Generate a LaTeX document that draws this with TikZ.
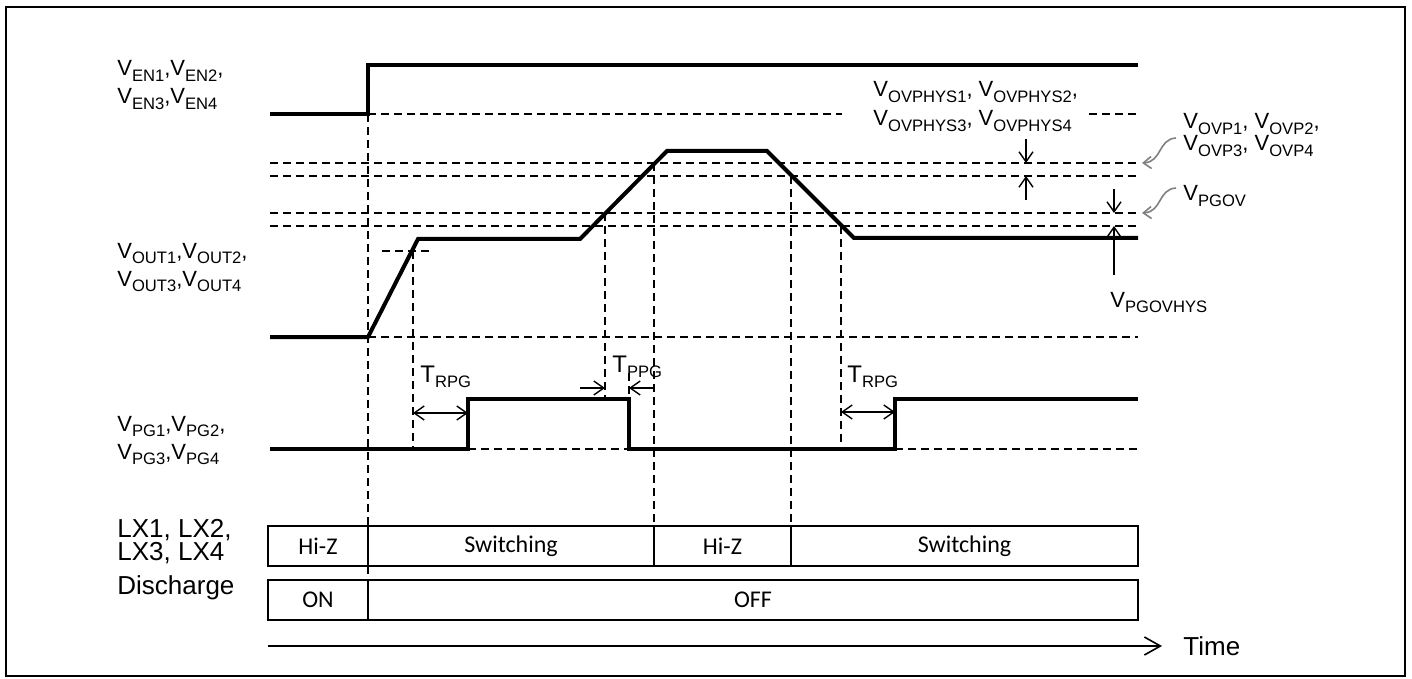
\documentclass[tikz,border=0pt]{standalone}
\usepackage{fontspec}
\setmainfont{Liberation Sans}
\newfontfamily\calibrifont{Carlito}
\usetikzlibrary{arrows.meta}
\newcommand\Vs[2]{#1\raisebox{-2.6pt}{\fontsize{8.3}{9}\selectfont #2}}
\begin{document}
\begin{tikzpicture}[x=0.5pt,y=-0.5pt,
  sig/.style={line width=2pt},
  guide/.style={line width=0.8pt, dash pattern=on 4pt off 2.5pt},
  lbl/.style={anchor=base west, inner sep=0pt, font=\fontsize{11}{13}\selectfont},
  biglbl/.style={anchor=base west, inner sep=0pt, font=\fontsize{13}{15}\selectfont},
  tlbl/.style={anchor=base west, inner sep=0pt, font=\fontsize{12}{14}\selectfont},
  cell/.style={draw, line width=0.8pt, inner sep=0pt, outer sep=0pt, anchor=north west,
               minimum height=20pt, font=\calibrifont\fontsize{12}{14}\selectfont},
  barb/.style={-{Straight Barb[length=5pt,width=7pt]}, line width=0.7pt},
  dbarb/.style={{Straight Barb[length=5pt,width=7pt]}-{Straight Barb[length=5pt,width=7pt]}, line width=0.7pt},
  grayarr/.style={-{Straight Barb[length=4pt,width=6pt]}, draw=black!50, line width=0.8pt},
]
\useasboundingbox (0,0) rectangle (1412,679);
\draw[line width=1.3pt] (6,7) rectangle (1405,676);

% guide lines
\draw[guide] (368,114) -- (842,114);
\draw[guide] (1089,114) -- (1138,114);
\foreach \yy in {163,176,213,226} \draw[guide] (270,\yy) -- (1138,\yy);
\draw[guide] (368,337) -- (1138,337);
\draw[guide] (382,251) -- (429,251);
\draw[guide] (468,449) -- (629,449);
\draw[guide] (895,449) -- (1138,449);
\draw[guide] (368,114) -- (368,526);
\draw[guide] (368,566) -- (368,580);
\draw[guide] (413,251) -- (413,449);
\draw[guide] (605,213) -- (605,399);
\draw[guide] (629,373) -- (629,399);
\draw[guide] (654,163) -- (654,526);
\draw[guide] (791,176) -- (791,526);
\draw[guide] (841,226) -- (841,449);

% signals
\draw[sig] (270,114) -- (368,114) -- (368,65) -- (1138,65);
\draw[sig] (270,337) -- (368,337) -- (418,239) -- (580,239) -- (667,151) -- (767,151) -- (854,238) -- (1138,238);
\draw[sig] (270,449) -- (468,449) -- (468,399) -- (629,399) -- (629,449) -- (895,449) -- (895,399) -- (1138,399);

% level arrows
\draw[barb] (1026,139) -- (1026,163);
\draw[barb] (1026,200) -- (1026,176);
\draw[barb] (1114,189) -- (1114,213);
\draw[barb] (1114,275) -- (1114,226);
\draw[grayarr] (1176,138) .. controls (1158,139) and (1162,162) .. (1142,163);
\draw[grayarr] (1176,188) .. controls (1158,189) and (1162,212) .. (1142,213);

% timing arrows
\draw[dbarb] (413,413) -- (468,413);
\draw[dbarb] (841,412) -- (895,412);
\draw[barb] (580,388) -- (605,388);
\draw[barb] (655,388) -- (629,388);

% left labels
\node[lbl] (en1) at (117,76) {\Vs{V}{EN1},\Vs{V}{EN2},};
\node[lbl] (en2) at (117,104) {\Vs{V}{EN3},\Vs{V}{EN4}};
\node[lbl] (out1) at (117,258) {\Vs{V}{OUT1},\Vs{V}{OUT2},};
\node[lbl] (out2) at (117,286) {\Vs{V}{OUT3},\Vs{V}{OUT4}};
\node[lbl] (pg1) at (117,431) {\Vs{V}{PG1},\Vs{V}{PG2},};
\node[lbl] (pg2) at (117,459) {\Vs{V}{PG3},\Vs{V}{PG4}};
\node[biglbl] (lx1) at (117,537) {LX1, LX2,};
\node[biglbl] (lx2) at (117,560) {LX3, LX4};
\node[biglbl] (dis) at (117,594) {Discharge};

% right labels
\node[lbl] (hys1) at (873,97) {\Vs{V}{OVPHYS1}, \Vs{V}{OVPHYS2},};
\node[lbl] (hys2) at (873,126) {\Vs{V}{OVPHYS3}, \Vs{V}{OVPHYS4}};
\node[lbl] (ovp1) at (1183,129) {\Vs{V}{OVP1}, \Vs{V}{OVP2},};
\node[lbl] (ovp2) at (1183,151) {\Vs{V}{OVP3}, \Vs{V}{OVP4}};
\node[lbl] (pgov) at (1183,201) {\Vs{V}{PGOV}};
\node[lbl] (pgovhys) at (1110,307) {\Vs{V}{PGOVHYS}};
\node[tlbl] (trpg1) at (420,382) {\Vs{T}{RPG}};
\node[tlbl] (tppg) at (612,372) {\Vs{T}{PPG}};
\node[tlbl] (trpg2) at (847,382) {\Vs{T}{RPG}};

% state boxes
\node[cell, minimum width=50pt] (lxa) at (268,526) {Hi-Z};
\node[cell, minimum width=143pt] (lxb) at (368,526) {Switching};
\node[cell, minimum width=68.5pt] (lxc) at (654,526) {Hi-Z};
\node[cell, minimum width=173.5pt] (lxd) at (791,526) {Switching};
\node[cell, minimum width=50pt] (dsa) at (268,580) {ON};
\node[cell, minimum width=385pt] (dsb) at (368,580) {OFF};

% time axis
\coordinate (t0) at (268,646);
\coordinate (t1) at (1162,646);
\draw[-{Straight Barb[length=8pt,width=9pt]}, line width=0.8pt] (t0) -- (t1);
\node[biglbl, anchor=west] (time) at (1183,646) {Time};
\end{tikzpicture}
\end{document}
